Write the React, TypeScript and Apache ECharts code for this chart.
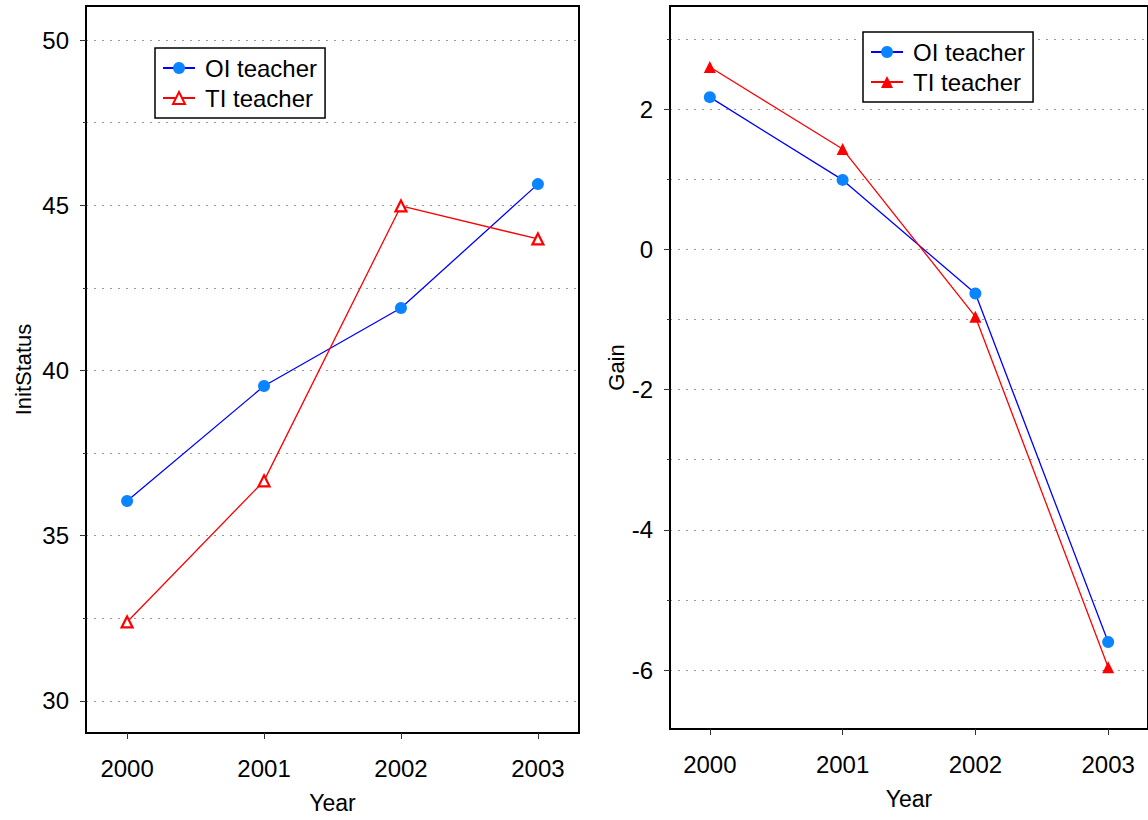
import React, { useEffect, useRef } from 'react';
import * as echarts from 'echarts';

const years = [2000, 2001, 2002, 2003];
const seriesNames = ['OI teacher', 'TI teacher'];
const oiInitStatus = [36.05, 39.53, 41.89, 45.64];
const tiInitStatus = [32.39, 36.66, 44.98, 43.98];
const oiGain = [2.17, 0.99, -0.63, -5.6];
const tiGain = [2.6, 1.43, -0.96, -5.96];
const initMajorTicks = [30, 35, 40, 45, 50];
const initGridTicks = [30, 32.5, 35, 37.5, 40, 42.5, 45, 47.5, 50];
const gainMajorTicks = [-6, -4, -2, 0, 2];
const gainGridTicks = [-6, -5, -4, -3, -2, -1, 0, 1, 2, 3];

const FONT = '"Liberation Sans", Arial, Helvetica, sans-serif';
const OI_LINE = '#0000ff';
const OI_FILL = '#0a84ff';
const TI = '#ff0000';

const pairs = (vals: number[]) => years.map((y, i) => [y, vals[i]]);

function xAxis(gridIndex: number, nameGap: number) {
  return {
    type: 'value',
    gridIndex,
    min: 1999.7,
    max: 2003.3,
    name: 'Year',
    nameLocation: 'middle',
    nameGap,
    nameTextStyle: { fontSize: 23, color: '#000', fontFamily: FONT },
    axisLine: { show: true, onZero: false, lineStyle: { color: '#000', width: 2 } },
    axisTick: { show: true, inside: false, length: 6, customValues: years, lineStyle: { color: '#333', width: 1 } },
    axisLabel: { customValues: years, margin: 23, fontSize: 24, color: '#000', fontFamily: FONT, formatter: (v: number) => String(v) },
    splitLine: { show: false },
  };
}

function yAxes(gridIndex: number, min: number, max: number, major: number[], all: number[], name: string, nameGap: number) {
  return [
    {
      type: 'value',
      gridIndex,
      position: 'left',
      min,
      max,
      name,
      nameLocation: 'middle',
      nameGap,
      nameTextStyle: { fontSize: 22, color: '#000', fontFamily: FONT },
      axisLine: { show: true, onZero: false, lineStyle: { color: '#000', width: 2 } },
      axisTick: { show: true, inside: false, length: 3, customValues: all, lineStyle: { color: '#333', width: 1 } },
      axisLabel: { customValues: major, margin: 17, fontSize: 24, color: '#000', fontFamily: FONT, formatter: (v: number) => String(v) },
      splitLine: { show: true, lineStyle: { color: '#999', width: 1, type: [2, 6] } },
    },
    {
      type: 'value',
      gridIndex,
      position: 'left',
      min,
      max,
      axisLine: { show: false },
      axisTick: { show: true, inside: false, length: 6, customValues: major, lineStyle: { color: '#333', width: 1 } },
      axisLabel: { show: false },
      splitLine: { show: false },
    },
  ];
}

function legend(left: number, top: number, gridIdx: number) {
  const tiItem: any = { name: seriesNames[1] };
  if (gridIdx === 1) tiItem.itemStyle = { color: TI, borderColor: TI, borderWidth: 0 };
  return {
    orient: 'vertical',
    left,
    top,
    padding: [8, 8, 8, 7],
    itemWidth: 32,
    itemHeight: 15,
    itemGap: 6,
    backgroundColor: '#fff',
    borderColor: '#000',
    borderWidth: 1.5,
    borderRadius: 0,
    textStyle: { fontSize: 24, color: '#000', fontFamily: FONT, padding: [0, 0, 0, 5] },
    data: [{ name: seriesNames[0] }, tiItem],
    selectedMode: false,
  };
}

export default function App() {
  const ref = useRef<HTMLDivElement>(null);
  useEffect(() => {
    if (!ref.current) return;
    const chart = echarts.init(ref.current, null, { renderer: 'svg' });
    const option: any = {
      animation: false,
      backgroundColor: '#fff',
      textStyle: { fontFamily: FONT },
      grid: [
        { left: 86, top: 6, width: 493, height: 727, show: true, borderColor: '#000', borderWidth: 2, backgroundColor: 'transparent' },
        { left: 670, top: 6, width: 480, height: 723, show: true, borderColor: '#000', borderWidth: 2, backgroundColor: 'transparent' },
      ],
      xAxis: [xAxis(0, 58), xAxis(1, 58)],
      yAxis: [
        ...yAxes(0, 29.03, 51.03, initMajorTicks, initGridTicks, 'InitStatus', 52),
        ...yAxes(1, -6.84, 3.47, gainMajorTicks, gainGridTicks, 'Gain', 37),
      ],
      legend: [legend(155, 48, 0), legend(863, 32, 1)],
      series: [
        {
          name: seriesNames[0], type: 'line', xAxisIndex: 0, yAxisIndex: 0,
          data: pairs(oiInitStatus), symbol: 'circle', symbolSize: 12,
          lineStyle: { color: OI_LINE, width: 1.3 }, itemStyle: { color: OI_FILL },
        },
        {
          name: seriesNames[1], type: 'line', xAxisIndex: 0, yAxisIndex: 0,
          data: pairs(tiInitStatus), symbol: 'triangle', symbolSize: 11,
          lineStyle: { color: TI, width: 1.3 }, itemStyle: { color: '#fff', borderColor: TI, borderWidth: 2.2 },
        },
        {
          name: seriesNames[0], type: 'line', xAxisIndex: 1, yAxisIndex: 2,
          data: pairs(oiGain), symbol: 'circle', symbolSize: 12,
          lineStyle: { color: OI_LINE, width: 1.3 }, itemStyle: { color: OI_FILL },
        },
        {
          name: seriesNames[1], type: 'line', xAxisIndex: 1, yAxisIndex: 2,
          data: pairs(tiGain), symbol: 'triangle', symbolSize: 12,
          lineStyle: { color: TI, width: 1.3 }, itemStyle: { color: TI },
        },
      ],
    };
    chart.setOption(option);
    return () => chart.dispose();
  }, []);
  return <div ref={ref} style={{ position: 'fixed', left: 0, top: 0, width: 1148, height: 820 }} />;
}
